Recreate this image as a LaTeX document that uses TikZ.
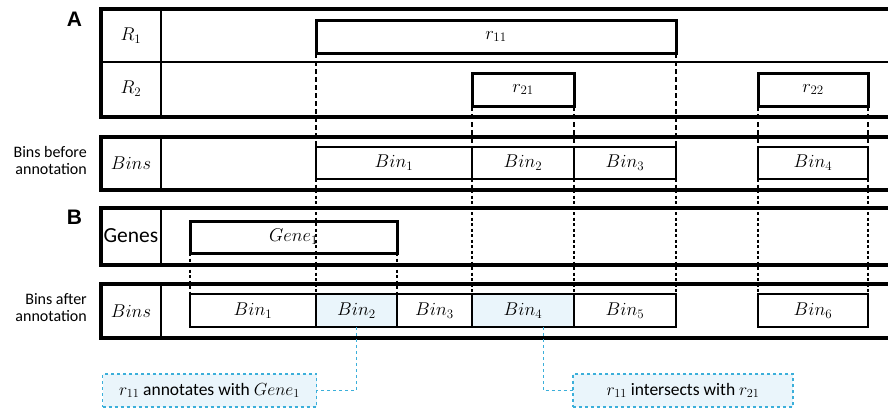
\RequirePackage{fix-cm}
\documentclass[tikz,border=0pt]{standalone}
\usepackage{fontspec}
\setmainfont{Carlito}
\newfontfamily\panelfont{Liberation Sans}
\definecolor{cy}{HTML}{3BAFDA}
\definecolor{lb}{HTML}{EAF5FB}
\newcommand{\mathsz}{\fontsize{18.5}{21}\selectfont}
\begin{document}
\begin{tikzpicture}[x=1pt,y=-1pt,
  outerline/.style={line width=4pt},
  divline/.style={line width=1.6pt},
  rbox/.style={draw, line width=3pt, inner sep=0pt, outer sep=0pt, font=\mathsz},
  binbox/.style={draw, line width=1.6pt, inner sep=0pt, outer sep=0pt, font=\mathsz},
  shadedbin/.style={binbox, fill=lb},
  vdash/.style={line width=1.8pt, dash pattern=on 5pt off 3pt},
  vdashfine/.style={line width=1.2pt, dash pattern=on 3pt off 2.5pt},
  notebox/.style={draw=cy, fill=lb, dashed, line width=1.2pt, inner sep=0pt, outer sep=0pt, minimum height=33pt, font=\fontsize{17.5}{20}\selectfont},
  noteline/.style={draw=cy, dashed, line width=1pt},
  sidelabel/.style={align=right, anchor=east, font=\fontsize{16}{17}\selectfont, inner sep=0pt},
  panel/.style={font=\panelfont\bfseries\fontsize{21}{21}\selectfont, inner sep=0pt},
  collabel/.style={inner sep=0pt, font=\mathsz}
]
\useasboundingbox (0,0) rectangle (888,410);
\clip (0,0) rectangle (888,410);

% region nodes
\node[rbox, minimum width=360pt, minimum height=33pt] (r11) at (496,36.5) {$r_{11}$};
\node[rbox, minimum width=102pt, minimum height=33pt] (r21) at (523,89.5) {$r_{21}$};
\node[rbox, minimum width=110pt, minimum height=33pt] (r22) at (813,89.5) {$r_{22}$};

% bins before
\node[binbox, minimum width=156pt, minimum height=32pt] (bb1) at (394,163) {$Bin_1$};
\node[binbox, minimum width=102pt, minimum height=32pt] (bb2) at (523,163) {$Bin_2$};
\node[binbox, minimum width=102pt, minimum height=32pt] (bb3) at (625,163) {$Bin_3$};
\node[binbox, minimum width=110pt, minimum height=32pt] (bb4) at (813,163) {$Bin_4$};

% gene
\node[rbox, minimum width=207pt, minimum height=32pt] (gene) at (293.5,237) {$Gene_1$};

% bins after
\node[binbox, minimum width=126pt, minimum height=33pt] (ba1) at (253,310.5) {$Bin_1$};
\node[shadedbin, minimum width=81pt, minimum height=33pt] (ba2) at (356.5,310.5) {$Bin_2$};
\node[binbox, minimum width=75pt, minimum height=33pt] (ba3) at (434.5,310.5) {$Bin_3$};
\node[shadedbin, minimum width=102pt, minimum height=33pt] (ba4) at (523,310.5) {$Bin_4$};
\node[binbox, minimum width=102pt, minimum height=33pt] (ba5) at (625,310.5) {$Bin_5$};
\node[binbox, minimum width=110pt, minimum height=33pt] (ba6) at (813,310.5) {$Bin_6$};

% dashed guide lines
\draw[vdash] (r11.south west) -- (bb1.north west);
\draw[vdash] (r11.south east) -- (bb3.north east);
\draw[vdash] (r21.south west) -- (bb2.north west);
\draw[vdash] (r21.south east) -- (bb2.north east);
\draw[vdash] (r22.south west) -- (bb4.north west);
\draw[vdash] (r22.south east) -- (bb4.north east);
\draw[vdashfine] (bb1.south west) -- (ba2.north west);
\draw[vdashfine] (bb2.south west) -- (ba4.north west);
\draw[vdashfine] (bb2.south east) -- (ba4.north east);
\draw[vdashfine] (bb3.south east) -- (ba5.north east);
\draw[vdashfine] (bb4.south west) -- (ba6.north west);
\draw[vdashfine] (bb4.south east) -- (ba6.north east);
\draw[vdashfine] (gene.south west) -- (ba1.north west);
\draw[vdashfine] (gene.south east) -- (ba3.north west);

% outer frames
\draw[outerline] (895,9) -- (101,9) -- (101,117) -- (895,117);
\draw[divline] (101,62) -- (895,62);
\draw[divline] (161,9) -- (161,117);
\draw[outerline] (895,137) -- (101,137) -- (101,190) -- (895,190);
\draw[divline] (161,137) -- (161,190);
\draw[outerline] (895,208) -- (101,208) -- (101,265) -- (895,265);
\draw[divline] (161,208) -- (161,265);
\draw[outerline] (895,284) -- (101,284) -- (101,338) -- (895,338);
\draw[divline] (161,284) -- (161,338);

% column labels
\node[collabel] (lr1) at (131,36) {$R_1$};
\node[collabel] (lr2) at (131,89) {$R_2$};
\node[collabel] (lbb) at (131,163) {$Bins$};
\node[inner sep=0pt, font=\fontsize{21.5}{21.5}\selectfont] (lgenes) at (131,236) {Genes};
\node[collabel] (lba) at (131,311) {$Bins$};

% side labels
\node[panel] (pa) at (74.5,19) {A};
\node[panel] (pb) at (74.5,217) {B};
\node[sidelabel] (sbb) at (87,160) {Bins before\\annotation};
\node[sidelabel] (sba) at (87,308) {Bins after\\annotation};

% notes
\node[notebox, minimum width=214pt] (n1) at (209.5,390.5) {$r_{11}$ annotates with $Gene_1$};
\node[notebox, minimum width=220pt] (n2) at (683,390.5) {$r_{11}$ intersects with $r_{21}$};
\draw[noteline] (ba2.south) |- (n1.east);
\draw[noteline] ([xshift=20pt]ba4.south) |- (n2.west);
\end{tikzpicture}
\end{document}
